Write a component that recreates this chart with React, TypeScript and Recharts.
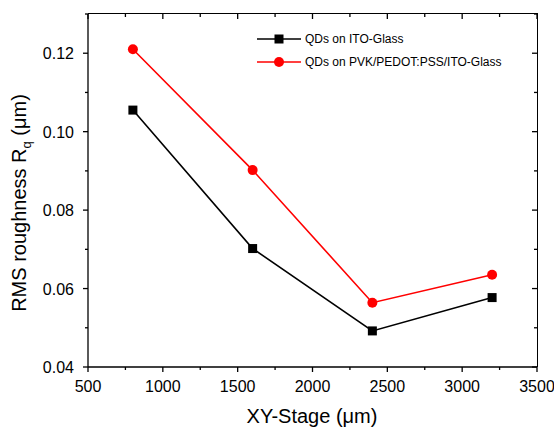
import React from "react";
import { LineChart, Line, XAxis, YAxis, Legend } from "recharts";

const stagePositions = [800, 1600, 2400, 3200];
const itoGlass = [0.1055, 0.0702, 0.0492, 0.0577];
const pvkGlass = [0.121, 0.0902, 0.0564, 0.0635];
const xTicks = [500, 750, 1000, 1250, 1500, 1750, 2000, 2250, 2500, 2750, 3000, 3250, 3500];
const yTicks = [0.04, 0.05, 0.06, 0.07, 0.08, 0.09, 0.1, 0.11, 0.12, 0.13];
const seriesNames = ["QDs on ITO-Glass", "QDs on PVK/PEDOT:PSS/ITO-Glass"];

const data = stagePositions.map((x, i) => ({ x, ito: itoGlass[i], pvk: pvkGlass[i] }));

// layout constants
const CHART_W = 554;
const CHART_H = 431;
const MARGIN = { top: 14, right: 17, bottom: 0, left: 0 };
const X_AXIS_H = 64;
const Y_AXIS_W = 88;
const PLOT_W = CHART_W - MARGIN.left - MARGIN.right - Y_AXIS_W;
const PLOT_H = CHART_H - MARGIN.top - MARGIN.bottom - X_AXIS_H;

const FONT = "'Liberation Sans', Arial, sans-serif";
const SW = 1.3;
const isMajorX = (v: number) => v % 500 === 0;
const isMajorY = (v: number) => Math.round(v * 100) % 2 === 0;

const BottomTick = (p: any) => {
  const v = p.payload.value;
  const major = isMajorX(v);
  const len = major ? 5 : 3;
  const top = p.y - PLOT_H;
  return (
    <g>
      <line x1={p.x} x2={p.x} y1={p.y} y2={p.y + len} stroke="#000" strokeWidth={SW} />
      <line x1={p.x} x2={p.x} y1={top} y2={top + len} stroke="#000" strokeWidth={SW} />
      {major && (
        <text x={p.x} y={p.y + 25} textAnchor="middle" fontSize={16} fontFamily={FONT} fill="#000">
          {v}
        </text>
      )}
    </g>
  );
};

const LeftTick = (p: any) => {
  const v = p.payload.value;
  const major = isMajorY(v);
  const len = major ? 5 : 3;
  const right = p.x + PLOT_W;
  return (
    <g>
      <line x1={p.x} x2={p.x - len} y1={p.y} y2={p.y} stroke="#000" strokeWidth={SW} />
      <line x1={right} x2={right - len} y1={p.y} y2={p.y} stroke="#000" strokeWidth={SW} />
      {major && (
        <text x={p.x - 14} y={p.y + 6} textAnchor="end" fontSize={16} fontFamily={FONT} fill="#000">
          {v.toFixed(2)}
        </text>
      )}
    </g>
  );
};

const SquareDot = (p: any) => {
  if (p.cx == null || p.cy == null) return <g key={p.key} />;
  return <rect key={p.key} x={p.cx - 4.5} y={p.cy - 4.5} width={9} height={9} fill="#000" />;
};

const LegendContent = () => (
  <div style={{ fontFamily: FONT, fontSize: 12, color: "#000" }}>
    {[
      { name: seriesNames[0], color: "#000", shape: "square" },
      { name: seriesNames[1], color: "#ff0000", shape: "circle" },
    ].map((e) => (
      <div key={e.name} style={{ display: "flex", alignItems: "center", height: 23 }}>
        <svg width={48} height={12} style={{ display: "block" }}>
          <line x1={0} x2={44} y1={6} y2={6} stroke={e.color} strokeWidth={1.6} />
          {e.shape === "square" ? (
            <rect x={17.5} y={1.5} width={9} height={9} fill={e.color} />
          ) : (
            <circle cx={22} cy={6} r={5} fill={e.color} />
          )}
        </svg>
        <span>{e.name}</span>
      </div>
    ))}
  </div>
);

const YTitle = () => (
  <text
    x={26}
    y={203}
    transform="rotate(-90, 26, 203)"
    textAnchor="middle"
    fontSize={20}
    fontFamily={FONT}
    fill="#000"
  >
    RMS roughness R
    <tspan fontSize={13} dy={5}>q</tspan>
    <tspan dy={-5}> (μm)</tspan>
  </text>
);

const XTitle = () => (
  <text x={312} y={423} textAnchor="middle" fontSize={20} fontFamily={FONT} fill="#000">
    XY-Stage (μm)
  </text>
);

export default function App() {
  return (
    <div style={{ position: "absolute", left: 0, top: 0, width: CHART_W, height: CHART_H, background: "#fff" }}>
      <LineChart width={CHART_W} height={CHART_H} data={data} margin={MARGIN}>
        <XAxis
          dataKey="x"
          type="number"
          domain={[500, 3500]}
          ticks={xTicks}
          interval={0}
          height={X_AXIS_H}
          tickSize={0}
          tickMargin={0}
          tick={<BottomTick />}
          axisLine={{ stroke: "#000", strokeWidth: SW }}
          tickLine={false}
          label={<XTitle />}
        />
        <YAxis
          type="number"
          domain={[0.04, 0.13]}
          ticks={yTicks}
          interval={0}
          width={Y_AXIS_W}
          tickSize={0}
          tickMargin={0}
          tick={<LeftTick />}
          axisLine={{ stroke: "#000", strokeWidth: SW }}
          tickLine={false}
          label={<YTitle />}
        />
        <Legend
          layout="horizontal"
          verticalAlign="middle"
          align="center"
          content={<LegendContent />}
          wrapperStyle={{ position: "absolute", left: 257, top: 27, width: 270 }}
        />
        <Line
          dataKey="ito"
          name={seriesNames[0]}
          stroke="#000"
          strokeWidth={1.6}
          dot={<SquareDot />}
          activeDot={false}
          isAnimationActive={false}
        />
        <Line
          dataKey="pvk"
          name={seriesNames[1]}
          stroke="#ff0000"
          strokeWidth={1.6}
          dot={{ r: 5, fill: "#ff0000", stroke: "#ff0000", strokeWidth: 0 }}
          activeDot={false}
          isAnimationActive={false}
        />
      </LineChart>
      <div
        style={{
          position: "absolute",
          left: Y_AXIS_W + MARGIN.left,
          top: MARGIN.top - 0.75,
          width: PLOT_W + 0.75,
          height: PLOT_H + 0.75,
          borderTop: "1.5px solid #000",
          borderRight: "1.5px solid #000",
          boxSizing: "border-box",
          pointerEvents: "none",
        }}
      />
    </div>
  );
}
